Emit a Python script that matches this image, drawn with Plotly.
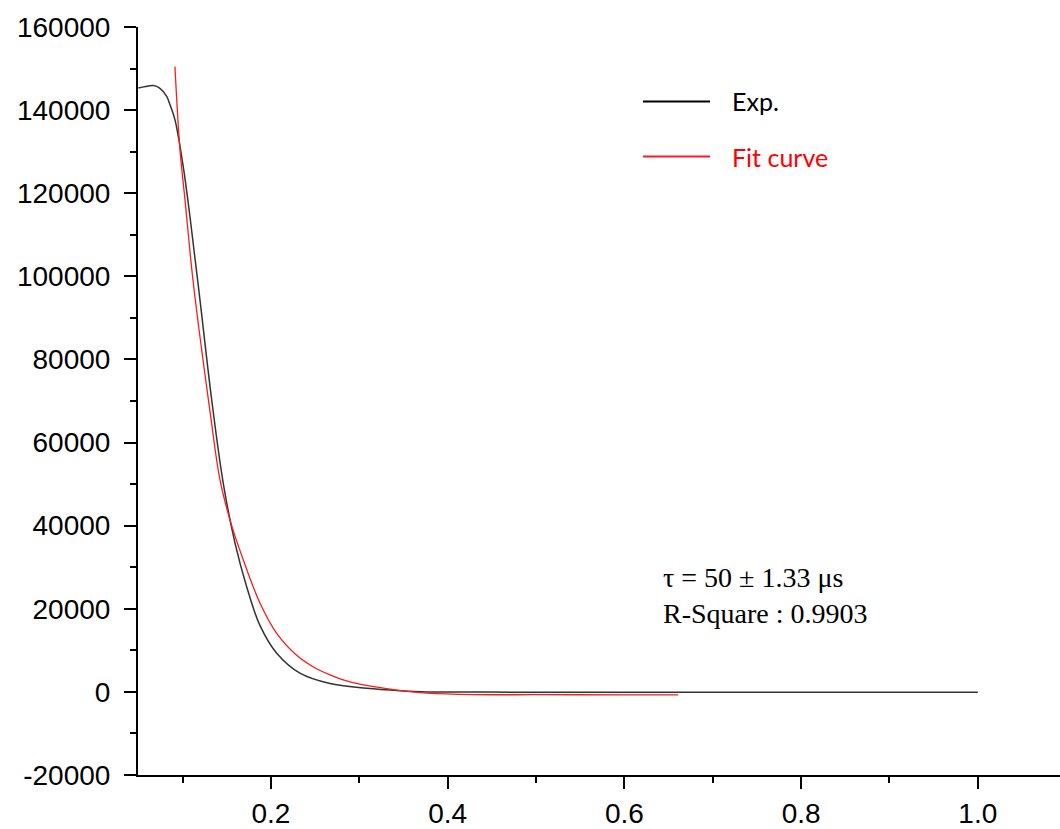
import plotly.graph_objects as go

# experimental decay curve
exp_x = [0.050, 0.058, 0.067, 0.074, 0.082, 0.0857, 0.0913, 0.1007, 0.1083, 0.1196,
         0.1329, 0.1460, 0.1593, 0.1725, 0.1875, 0.2065, 0.2328, 0.2668, 0.3083, 0.346,
         0.377, 0.45, 0.55, 0.65, 0.75, 0.85, 0.95, 1.0]
exp_y = [145300, 145700, 145900, 145300, 143300, 141300, 137700, 126400, 114400, 94400,
         70300, 50200, 35800, 25300, 16000, 9300, 4500, 2000, 900, 300,
         0, -50, -100, -100, -100, -100, -100, -100]

# exponential fit
fit_x = [0.0913, 0.0970, 0.1027, 0.1121, 0.1310, 0.1423, 0.1536, 0.1686, 0.1875, 0.2065,
         0.2291, 0.2480, 0.2668, 0.2894, 0.3272, 0.3600, 0.3766, 0.4290, 0.50, 0.60, 0.661]
fit_y = [150500, 130500, 118400, 98400, 67500, 51000, 41400, 31800, 21400, 14100,
         8800, 6000, 4100, 2400, 900, 0, -300, -650, -680, -700, -720]

y_ticks = [-20000, 0, 20000, 40000, 60000, 80000, 100000, 120000, 140000, 160000]
y_labels = ["-20000", "0", "20000", "40000", "60000", "80000", "100000", "120000", "140000", "160000"]
x_ticks = [0.2, 0.4, 0.6, 0.8, 1.0]
x_labels = ["0.2", "0.4", "0.6", "0.8", "1.0"]

W, H = 1060, 829
L, R, T, B = 138, 0, 27, 54


def px(x):
    return (x - L) / (W - L - R)


def py(y):
    return (H - B - y) / (H - T - B)


fig = go.Figure()
fig.add_trace(go.Scatter(x=exp_x, y=exp_y, mode="lines", name="Exp.",
                         line=dict(color="#333333", width=1.5, shape="spline", smoothing=1.0)))
fig.add_trace(go.Scatter(x=fit_x, y=fit_y, mode="lines", name="Fit curve",
                         line=dict(color="#ff1a1a", width=1.3, shape="spline", smoothing=1.0)))

tick_font = dict(family="Liberation Sans, Arial", size=28, color="black")

fig.update_layout(
    width=W, height=H,
    margin=dict(l=L, r=R, t=T, b=B),
    paper_bgcolor="white", plot_bgcolor="white",
    showlegend=False,
    xaxis=dict(range=[0.0495, 1.093], showgrid=False, zeroline=False, automargin=False,
               showline=True, linecolor="black", linewidth=2,
               ticks="outside", ticklen=12, tickwidth=2, tickcolor="black",
               tickmode="array", tickvals=x_ticks, ticktext=x_labels,
               tickfont=tick_font, ticklabelstandoff=0,
               minor=dict(ticks="outside", ticklen=6, tickwidth=2, tickcolor="black",
                          tick0=0.1, dtick=0.2, showgrid=False)),
    yaxis=dict(range=[-20000, 160000], showgrid=False, zeroline=False, automargin=False,
               showline=True, linecolor="black", linewidth=2,
               ticks="outside", ticklen=12, tickwidth=2, tickcolor="black",
               tickmode="array", tickvals=y_ticks, ticktext=y_labels,
               tickfont=tick_font, ticklabelstandoff=8,
               minor=dict(ticks="outside", ticklen=6, tickwidth=2, tickcolor="black",
                          tick0=-10000, dtick=20000, showgrid=False)),
)

# legend drawn by hand
for yy, col in [(101.5, "black"), (156.5, "#ff1a1a")]:
    fig.add_shape(type="line", xref="paper", yref="paper",
                  x0=px(643), x1=px(710), y0=py(yy), y1=py(yy),
                  line=dict(color=col, width=2))
fig.add_annotation(xref="paper", yref="paper", x=px(730), y=py(101), text="Exp.",
                   showarrow=False, xanchor="left", yanchor="middle",
                   font=dict(family="Lato", size=25, color="black"))
fig.add_annotation(xref="paper", yref="paper", x=px(730), y=py(157), text="Fit curve",
                   showarrow=False, xanchor="left", yanchor="middle",
                   font=dict(family="Lato", size=25, color="#ff0000"))

fig.add_annotation(xref="paper", yref="paper", x=px(661), y=py(595),
                   text="τ = 50 ± 1.33 μs<br>R-Square : 0.9903",
                   showarrow=False, xanchor="left", yanchor="middle", align="left",
                   font=dict(family="Liberation Serif, Times New Roman", size=28, color="black"))

# drop the default page margin so the figure sits at the window corner
fig.write_html("out.html", config={"displayModeBar": False},
               post_script="document.body.style.margin='0';")
